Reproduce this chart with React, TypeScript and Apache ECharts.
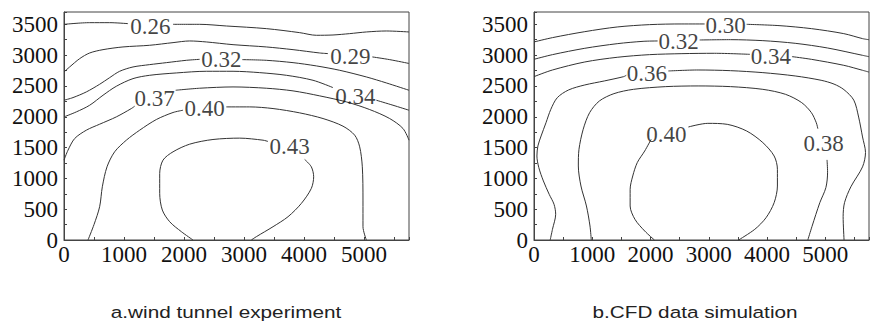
import React, { useEffect, useRef } from "react";
import * as echarts from "echarts";

type Pt = [number, number];

const xMax = 5750;
const yMax = 3700;
const xLabelStep = 1000;
const yLabelStep = 500;

const captions = ["a.wind tunnel experiment", "b.CFD data simulation"];

// ---- a. wind tunnel experiment: contour lines (segments broken at labels)
const tunnel026: Pt[][] = [
  [[0, 3500], [428, 3527], [761, 3527], [1067, 3511]],
  [[1817, 3500], [2261, 3500], [2706, 3473], [3372, 3430], [3928, 3365], [4206, 3322], [4483, 3327], [4761, 3349], [5039, 3376], [5372, 3392], [5750, 3376]],
];
const tunnel029: Pt[][] = [
  [[0, 2727], [94, 2808], [261, 2943], [428, 3035], [650, 3089], [983, 3133], [1428, 3160], [1817, 3203], [2094, 3230], [2372, 3214], [2817, 3170], [3372, 3133], [3817, 3089], [4261, 3035], [4400, 3025]],
  [[5139, 2971], [5428, 2927], [5750, 2865]],
];
const tunnel032: Pt[][] = [
  [[0, 2268], [150, 2311], [372, 2403], [594, 2527], [761, 2635], [928, 2738], [1150, 2808], [1428, 2846], [1706, 2878], [2039, 2916], [2261, 2932]],
  [[2972, 2927], [3372, 2916], [3817, 2878], [4206, 2825], [4595, 2754], [5039, 2646], [5372, 2549], [5750, 2430]],
];
const tunnel034: Pt[][] = [
  [[0, 1998], [206, 2079], [428, 2187], [650, 2349], [872, 2495], [1150, 2619], [1428, 2673], [1872, 2711], [2372, 2738], [2817, 2738], [3261, 2716], [3706, 2673], [4150, 2592], [4483, 2473]],
  [[5206, 2268], [5483, 2187], [5750, 2106]],
];
const tunnel037: Pt[][] = [
  [[0, 1296], [67, 1458], [178, 1647], [372, 1782], [594, 1879], [872, 1998], [1122, 2133], [1178, 2171]],
  [[1861, 2430], [2261, 2463], [2817, 2484], [3372, 2463], [3817, 2420], [4261, 2339], [4706, 2241], [5095, 2117], [5428, 1971], [5650, 1809], [5750, 1620]],
];
const tunnel040: Pt[][] = [
  [[400, 0], [500, 250], [594, 540], [639, 864], [717, 1188], [844, 1431], [1039, 1620], [1261, 1782], [1539, 1955], [1817, 2069], [1984, 2106]],
  [[2706, 2160], [3094, 2160], [3484, 2133], [3928, 2063], [4317, 1971], [4650, 1847], [4845, 1701], [4928, 1512], [4972, 1188], [4983, 648], [4983, 216], [5039, 0]],
];
const tunnel043: Pt[][] = [
  [[2150, 0], [1956, 135], [1761, 297], [1639, 486], [1595, 756], [1595, 1080], [1650, 1296], [1817, 1431], [2094, 1555], [2483, 1631], [2928, 1653], [3317, 1620], [3400, 1599]],
  [[4011, 1307], [4122, 1188], [4161, 1026], [4122, 837], [3956, 594], [3734, 378], [3484, 216], [3206, 54], [3122, 0]],
];
const tunnelLabelText = ["0.26", "0.29", "0.32", "0.34", "0.37", "0.40", "0.43"];
const tunnelLabelPos: Pt[] = [
  [1439, 3467], [4772, 2981], [2622, 2922], [4856, 2330], [1511, 2295], [2345, 2133], [3761, 1512],
];

// ---- b. CFD data simulation
const cfd030: Pt[][] = [
  [[0, 3214], [317, 3284], [872, 3381], [1428, 3457], [1984, 3495], [2539, 3506], [2928, 3506]],
  [[3650, 3500], [4206, 3479], [4761, 3430], [5317, 3349], [5639, 3268], [5750, 3250]],
];
const cfd032: Pt[][] = [
  [[0, 2932], [317, 3008], [872, 3111], [1428, 3186], [1872, 3224], [2122, 3230]],
  [[2844, 3246], [3372, 3251], [3928, 3235], [4483, 3192], [5039, 3116], [5639, 2997], [5750, 2975]],
];
const cfd034: Pt[][] = [
  [[0, 2651], [317, 2759], [872, 2889], [1428, 2965], [1984, 3008], [2539, 3024], [3095, 3030], [3706, 3013]],
  [[4428, 2976], [4761, 2932], [5317, 2835], [5639, 2754], [5750, 2725]],
];
const cfd036: Pt[][] = [
  [[278, 0], [317, 173], [372, 417], [344, 579], [261, 741], [161, 958], [83, 1174], [50, 1363], [67, 1526], [122, 1688], [206, 1904], [289, 2121], [400, 2310], [594, 2435], [872, 2516], [1206, 2581], [1539, 2651], [1584, 2673]],
  [[2306, 2743], [2817, 2759], [3372, 2748], [3928, 2716], [4483, 2662], [4928, 2592], [5150, 2530], [5320, 2440], [5489, 2270], [5572, 1995], [5639, 1672], [5690, 1420], [5639, 1187], [5439, 864], [5330, 606], [5306, 380], [5322, 0]],
];
const cfd038: Pt[][] = [
  [[983, 0], [961, 227], [900, 552], [806, 876], [761, 1201], [772, 1471], [844, 1796], [955, 2067], [1122, 2256], [1372, 2375], [1706, 2445], [2261, 2489], [2817, 2500], [3372, 2489], [3928, 2445], [4317, 2364], [4595, 2229], [4761, 2067], [4845, 1904], [4872, 1807]],
  [[5030, 1300], [5039, 1100], [5010, 850], [4906, 606], [4772, 221], [4700, 0]],
];
const cfd040: Pt[][] = [
  [[2067, 0], [1900, 146], [1733, 335], [1650, 552], [1650, 822], [1695, 1039], [1772, 1255], [1900, 1444], [2011, 1634]],
  [[2650, 1834], [2983, 1893], [3317, 1877], [3650, 1769], [3928, 1580], [4122, 1363], [4178, 1147], [4178, 876], [4122, 606], [3983, 362], [3789, 173], [3511, 0]],
];
const cfdLabelText = ["0.30", "0.32", "0.34", "0.36", "0.38", "0.40"];
const cfdLabelPos: Pt[] = [
  [3289, 3480], [2483, 3225], [4067, 2985], [1939, 2700], [4972, 1560], [2272, 1715],
];

const tunnelContours = [tunnel026, tunnel029, tunnel032, tunnel034, tunnel037, tunnel040, tunnel043];
const cfdContours = [cfd030, cfd032, cfd034, cfd036, cfd038, cfd040];

const LINE = "#333";
const AXIS = "#444";
const SERIF = "Liberation Serif";
const SANS = "Liberation Sans";

function contourSeries(contours: Pt[][][], idx: number) {
  const out: any[] = [];
  contours.forEach((segs) =>
    segs.forEach((seg) =>
      out.push({
        type: "line",
        xAxisIndex: idx,
        yAxisIndex: idx,
        data: seg,
        smooth: 0.3,
        symbol: "none",
        showSymbol: false,
        silent: true,
        lineStyle: { color: LINE, width: 1 },
        z: 2,
      })
    )
  );
  return out;
}

function labelSeries(pos: Pt[], text: string[], idx: number) {
  return {
    type: "scatter",
    xAxisIndex: idx,
    yAxisIndex: idx,
    silent: true,
    symbolSize: 1,
    itemStyle: { color: "rgba(0,0,0,0)" },
    data: pos.map((p, i) => ({ value: p, name: text[i] })),
    label: {
      show: true,
      position: "inside",
      formatter: "{b}",
      fontFamily: SERIF,
      fontSize: 23,
      color: "#111",
    },
    z: 3,
  };
}

function xAxis(idx: number) {
  return {
    type: "value",
    gridIndex: idx,
    min: 0,
    max: xMax,
    interval: 500,
    axisLine: { show: true, onZero: false, lineStyle: { color: AXIS, width: 1 } },
    axisTick: { show: true, inside: true, length: 3, lineStyle: { color: AXIS } },
    splitLine: { show: false },
    axisLabel: {
      color: "#111",
      fontFamily: SERIF,
      fontSize: 23,
      margin: 3,
      formatter: (v: number) => (v % xLabelStep === 0 ? String(v) : ""),
    },
  };
}

function yAxis(idx: number) {
  return {
    type: "value",
    gridIndex: idx,
    min: 0,
    max: yMax,
    interval: 250,
    axisLine: { show: true, onZero: false, lineStyle: { color: AXIS, width: 1 } },
    axisTick: { show: true, inside: true, length: 3, lineStyle: { color: AXIS } },
    splitLine: { show: false },
    axisLabel: {
      color: "#111",
      fontFamily: SERIF,
      fontSize: 23,
      margin: 6,
      formatter: (v: number) => (v % yLabelStep === 0 ? String(v) : ""),
    },
  };
}

function caption(text: string, x: number) {
  return {
    type: "text",
    x,
    y: 312,
    scaleX: 1.22,
    style: {
      text,
      fontFamily: SANS,
      fontSize: 17,
      fill: "#222",
      align: "center",
      verticalAlign: "middle",
    },
  };
}

export default function App() {
  const ref = useRef<HTMLDivElement>(null);
  useEffect(() => {
    document.body.style.margin = "0";
    const chart = echarts.init(ref.current!, null, { renderer: "svg", width: 872, height: 324 });
    chart.setOption({
      animation: false,
      backgroundColor: "#fff",
      textStyle: { fontFamily: SERIF },
      grid: [
        { left: 64, top: 12, width: 345, height: 228, show: true, borderColor: AXIS, borderWidth: 1 },
        { left: 534, top: 12, width: 345, height: 228, show: true, borderColor: AXIS, borderWidth: 1 },
      ],
      xAxis: [xAxis(0), xAxis(1)],
      yAxis: [yAxis(0), yAxis(1)],
      series: [
        ...contourSeries(tunnelContours, 0),
        labelSeries(tunnelLabelPos, tunnelLabelText, 0),
        ...contourSeries(cfdContours, 1),
        labelSeries(cfdLabelPos, cfdLabelText, 1),
      ],
      graphic: [caption(captions[0], 226), caption(captions[1], 695)],
    });
    return () => chart.dispose();
  }, []);
  return (
    <div
      ref={ref}
      style={{ width: 872, height: 324, position: "absolute", left: 0, top: 0, background: "#fff" }}
    />
  );
}
